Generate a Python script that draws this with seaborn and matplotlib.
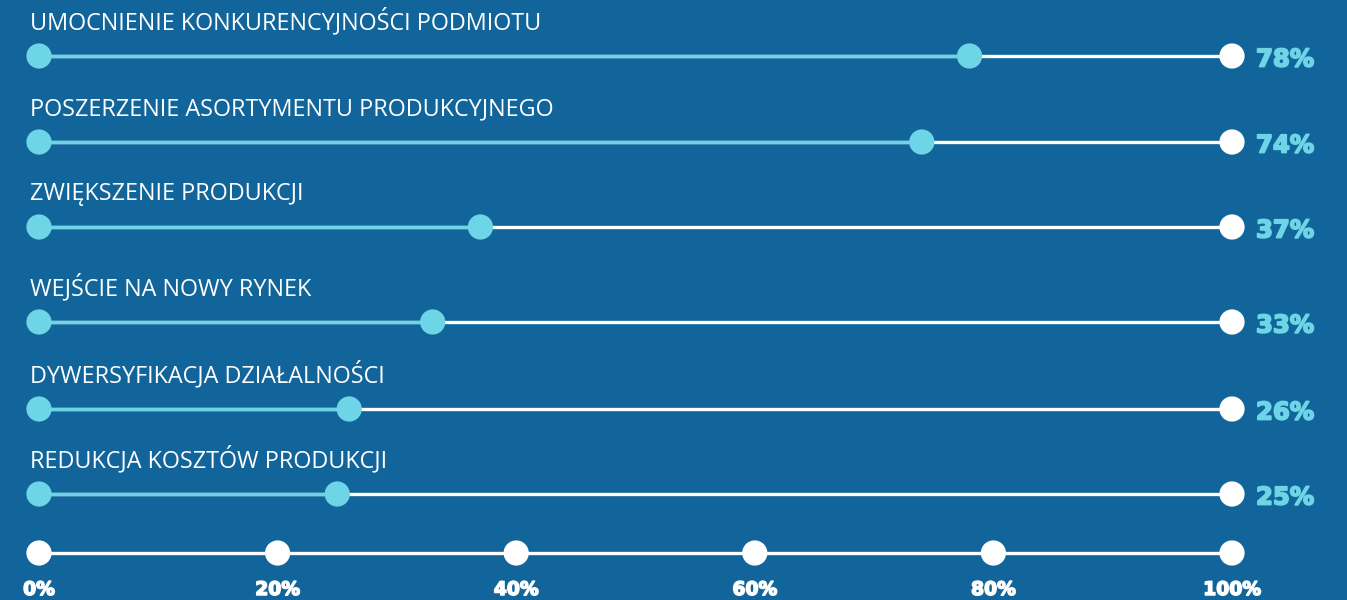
import matplotlib
matplotlib.use("Agg")
import matplotlib.pyplot as plt
import matplotlib.patheffects as pe
import seaborn as sns
import pandas as pd

categories = [
    "UMOCNIENIE KONKURENCYJNOŚCI PODMIOTU",
    "POSZERZENIE ASORTYMENTU PRODUKCYJNEGO",
    "ZWIĘKSZENIE PRODUKCJI",
    "WEJŚCIE NA NOWY RYNEK",
    "DYWERSYFIKACJA DZIAŁALNOŚCI",
    "REDUKCJA KOSZTÓW PRODUKCJI",
]
values = [78, 74, 37, 33, 26, 25]
tick_values = [0, 20, 40, 60, 80, 100]
tick_labels = ["0%", "20%", "40%", "60%", "80%", "100%"]

BG = "#11659a"
CYAN = "#6dd5e6"
WHITE = "#ffffff"

sns.set_theme(style="white")
plt.rcParams["font.family"] = ["DejaVu Sans"]

W, H = 1347, 600
fig = plt.figure(figsize=(W / 100, H / 100), dpi=100, facecolor=BG)
ax = fig.add_axes([0, 0, 1, 1])
ax.set_facecolor(BG)

# layout: pixel mapping
x0_px, x100_px = 39, 1232
scale = (x100_px - x0_px) / 100.0
ax.set_xlim(-x0_px / scale, (W - x0_px) / scale)
ax.set_ylim(H, 0)
row_y = [56, 142, 227, 322, 409, 494]
axis_y = 553

df = pd.DataFrame({"cat": categories, "val": values, "y": row_y})

# background white lines
ax.hlines(df["y"], 0, 100, color=WHITE, lw=2.4, zorder=1)
# cyan progress lines
ax.hlines(df["y"], 0, df["val"], color=CYAN, lw=2.4, zorder=2)

start = pd.DataFrame({"x": [0] * len(df), "y": df["y"]})
sns.scatterplot(data=start, x="x", y="y", color=CYAN, s=330, edgecolor="none", ax=ax, zorder=3)
sns.scatterplot(data=df, x="val", y="y", color=CYAN, s=330, edgecolor="none", ax=ax, zorder=3)
end = pd.DataFrame({"x": [100] * len(df), "y": df["y"]})
sns.scatterplot(data=end, x="x", y="y", color=WHITE, s=330, edgecolor="none", ax=ax, zorder=3)

for _, r in df.iterrows():
    ax.text((30 - x0_px) / scale, r["y"] - 27, r["cat"], color=WHITE,
            fontsize=16.8, ha="left", va="baseline", fontweight="normal",
            family=["Open Sans", "DejaVu Sans"])
    ax.text((1256 - x0_px) / scale, r["y"] + 1, f"{r['val']}%", color=CYAN,
            fontsize=17.5, ha="left", va="center_baseline", fontweight="bold",
            path_effects=[pe.withStroke(linewidth=1.3, foreground=CYAN)])

# bottom axis
ax.hlines(axis_y, 0, 100, color=WHITE, lw=2.4, zorder=1)
ticks = pd.DataFrame({"x": tick_values, "y": [axis_y] * len(tick_values)})
sns.scatterplot(data=ticks, x="x", y="y", color=WHITE, s=330, edgecolor="none", ax=ax, zorder=3)
for tv, tl in zip(tick_values, tick_labels):
    ax.text(tv, 595, tl, color=WHITE, fontsize=13.5, ha="center", va="baseline",
            fontweight="bold",
            path_effects=[pe.withStroke(linewidth=1.1, foreground=WHITE)])

ax.set_axis_off()
if ax.get_legend():
    ax.get_legend().remove()
fig.savefig("out.png", dpi=100, facecolor=BG)
